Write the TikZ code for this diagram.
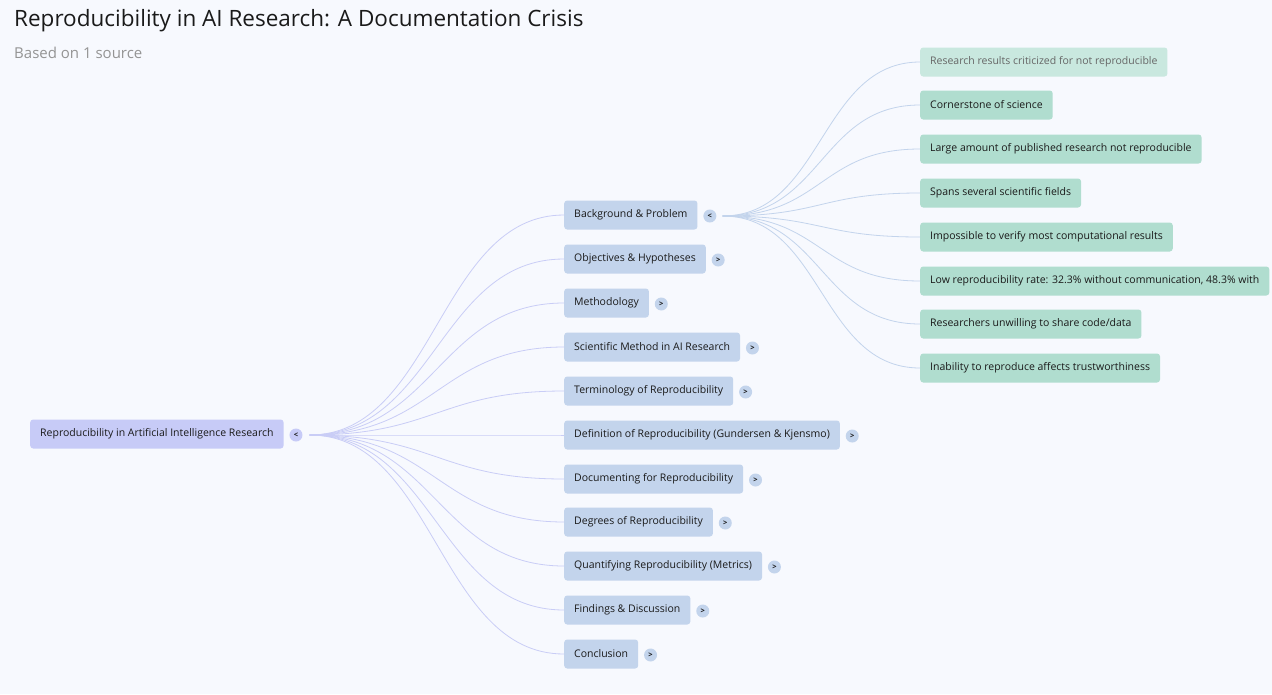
\documentclass[tikz,border=0pt]{standalone}
\usepackage{fontspec}
\setmainfont{Open Sans}
\usetikzlibrary{positioning}

\definecolor{pagebg}{HTML}{F7F9FE}
\definecolor{rootfill}{HTML}{C7CBF7}
\definecolor{topicfill}{HTML}{C3D4EC}
\definecolor{leaffill}{HTML}{B0DDCF}
\definecolor{fadedfill}{HTML}{C9E8DF}
\definecolor{rootlink}{HTML}{C9CDF6}
\definecolor{topiclink}{HTML}{C3D4EC}
\definecolor{inktext}{HTML}{1A1A1A}

\tikzset{
  box/.style={rounded corners=3pt, minimum height=29pt, inner xsep=10pt,
    anchor=west, text=inktext, font=\fontsize{10.5}{12}\selectfont},
  rootbox/.style={box, fill=rootfill},
  topicbox/.style={box, fill=topicfill},
  leafbox/.style={box, fill=leaffill},
  fadedbox/.style={box, fill=fadedfill, text=black!60},
  toggle/.style={circle, minimum size=13pt, inner sep=0pt, anchor=west,
    yshift=-1pt, font=\fontsize{7.5}{8}\selectfont\bfseries, text=inktext},
  rootedge/.style={rootlink, line width=0.8pt},
  topicedge/.style={topiclink, line width=0.8pt},
}

\begin{document}
\begin{tikzpicture}[x=1pt, y=-1pt]

\def\topicx{564}
\def\leafx{920}

% Page
\fill[pagebg] (0,0) rectangle (1272,694);
\useasboundingbox (0,0) rectangle (1272,694);

% Heading
\node[anchor=west, inner sep=0pt, text=inktext, font=\fontsize{22.5}{26}\selectfont]
  (title) at (14,21) {Reproducibility in AI Research: A Documentation Crisis};
\node[anchor=west, inner sep=0pt, text=black!42, font=\fontsize{15}{18}\selectfont]
  (subtitle) at (14,53) {Based on 1 source};

% Root
\node[rootbox] (root) at (30,434) {Reproducibility in Artificial Intelligence Research};
\node[toggle, fill=rootfill, right=5.5pt of root] (rootchev) {<};
\coordinate (rootout) at ([xshift=7pt]rootchev.east);

% Topics
\foreach \name/\y/\txt in {
    bg/215/{Background \& Problem},
    obj/259/{Objectives \& Hypotheses},
    meth/303/{Methodology},
    sci/347/{Scientific Method in AI Research},
    term/391/{Terminology of Reproducibility},
    defn/435/{Definition of Reproducibility (Gundersen \& Kjensmo)},
    doc/479/{Documenting for Reproducibility},
    deg/522/{Degrees of Reproducibility},
    quant/566/{Quantifying Reproducibility (Metrics)},
    find/610/{Findings \& Discussion},
    concl/654/{Conclusion}} {
  \node[topicbox] (\name) at (\topicx,\y) {\txt};
  \draw[rootedge] (rootout) .. controls +(125,0) and +(-125,0) .. (\name.west);
}

% Toggles of topics
\node[toggle, fill=topicfill, right=5.5pt of bg] (bgchev) {<};
\foreach \name in {obj,meth,sci,term,defn,doc,deg,quant,find,concl}
  \node[toggle, fill=topicfill, right=5.5pt of \name] (\name chev) {>};
\coordinate (bgout) at ([xshift=6pt]bgchev.east);

% Leaves of Background & Problem
\node[fadedbox] (leafa) at (\leafx,62) {Research results criticized for not reproducible};
\foreach \name/\y/\txt in {
    leafb/105/{Cornerstone of science},
    leafc/149/{Large amount of published research not reproducible},
    leafd/193/{Spans several scientific fields},
    leafe/237/{Impossible to verify most computational results},
    leaff/281/{Low reproducibility rate: 32.3\% without communication, 48.3\% with},
    leafg/324/{Researchers unwilling to share code/data},
    leafh/368/{Inability to reproduce affects trustworthiness}} {
  \node[leafbox] (\name) at (\leafx,\y) {\txt};
}
\foreach \name in {leafa,leafb,leafc,leafd,leafe,leaff,leafg,leafh}
  \draw[topicedge] (bgout) .. controls +(100,0) and +(-100,0) .. (\name.west);

\end{tikzpicture}
\end{document}
